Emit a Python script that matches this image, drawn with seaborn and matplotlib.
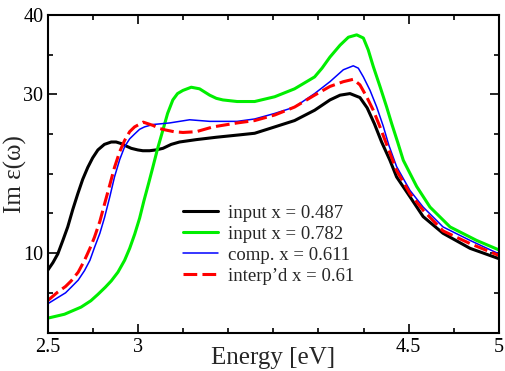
import matplotlib
matplotlib.use("Agg")
import matplotlib.pyplot as plt
import seaborn as sns
import pandas as pd

# ---- data ----
x_black = [2.50, 2.53, 2.557, 2.585, 2.612, 2.64, 2.668, 2.695, 2.723, 2.75, 2.779, 2.815,
           2.853, 2.88, 2.908, 2.935, 2.964, 3.0, 3.028, 3.065, 3.10, 3.139, 3.185, 3.231,
           3.324, 3.435, 3.564, 3.647, 3.758, 3.868, 3.979, 4.064, 4.12, 4.175, 4.23,
           4.27, 4.31, 4.35, 4.396, 4.433, 4.507, 4.58, 4.69, 4.84, 5.0]
y_black = [7.8, 8.8, 9.9, 11.6, 13.3, 15.5, 17.5, 19.3, 20.8, 22.0, 23.0, 23.7,
           24.0, 24.0, 23.8, 23.5, 23.2, 23.0, 22.9, 22.9, 23.0, 23.2, 23.7, 24.0,
           24.3, 24.6, 24.9, 25.1, 25.9, 26.7, 28.0, 29.3, 29.9, 30.1, 29.6,
           28.3, 26.3, 24.0, 21.7, 19.6, 17.1, 14.6, 12.5, 10.6, 9.3]

x_green = [2.50, 2.594, 2.686, 2.74, 2.779, 2.82, 2.853, 2.89, 2.927, 2.955, 2.983, 3.01,
           3.034, 3.06, 3.083, 3.11, 3.139, 3.165, 3.194, 3.22, 3.25, 3.296, 3.342, 3.37,
           3.398, 3.435, 3.471, 3.55, 3.647, 3.758, 3.868, 3.979, 4.02, 4.064, 4.12, 4.166,
           4.212, 4.249, 4.276, 4.304, 4.341, 4.378, 4.406, 4.44, 4.47, 4.544, 4.618, 4.729,
           4.876, 5.0]
y_green = [1.8, 2.3, 3.2, 4.0, 4.8, 5.7, 6.5, 7.6, 9.1, 10.6, 12.4, 14.4,
           16.6, 18.8, 20.8, 23.2, 25.5, 27.6, 29.3, 30.1, 30.5, 30.9, 30.7, 30.3,
           29.9, 29.5, 29.3, 29.1, 29.1, 29.7, 30.7, 32.2, 33.3, 34.7, 36.2, 37.2,
           37.5, 37.1, 35.6, 33.5, 31.0, 28.4, 26.3, 23.9, 21.7, 18.4, 15.8, 13.3,
           11.6, 10.4]

x_blue = [2.50, 2.557, 2.60, 2.631, 2.67, 2.705, 2.735, 2.76, 2.79, 2.816, 2.845, 2.871,
          2.9, 2.927, 2.955, 2.982, 3.01, 3.037, 3.083, 3.176, 3.287, 3.398, 3.55, 3.647,
          3.758, 3.868, 3.979, 4.064, 4.138, 4.193, 4.221, 4.249, 4.286, 4.323, 4.359,
          4.39, 4.433, 4.507, 4.58, 4.69, 4.84, 5.0]
y_blue = [3.6, 4.4, 5.0, 5.7, 6.6, 7.8, 9.1, 10.7, 12.5, 14.5, 17.1, 19.6,
          21.8, 23.4, 24.4, 25.0, 25.6, 25.9, 26.2, 26.4, 26.8, 26.6, 26.6, 26.9,
          27.6, 28.4, 30.1, 31.6, 33.1, 33.6, 33.3, 32.2, 30.5, 28.4, 26.0,
          23.6, 20.9, 17.9, 15.8, 13.3, 11.6, 9.9]

x_red = [2.50, 2.557, 2.60, 2.631, 2.67, 2.705, 2.735, 2.76, 2.79, 2.816, 2.845, 2.871,
         2.9, 2.927, 2.955, 2.982, 3.03, 3.083, 3.12, 3.157, 3.2, 3.25, 3.324, 3.416,
         3.55, 3.647, 3.758, 3.868, 3.979, 4.064, 4.138, 4.193, 4.23, 4.267, 4.304, 4.341,
         4.376, 4.433, 4.507, 4.58, 4.69, 4.84, 5.0]
y_red = [4.0, 5.1, 5.8, 6.5, 7.6, 9.1, 10.6, 12.0, 14.0, 16.2, 18.6, 20.8,
         22.8, 24.2, 25.3, 25.9, 26.5, 26.1, 25.7, 25.5, 25.3, 25.2, 25.3, 25.9,
         26.4, 26.7, 27.4, 28.4, 29.9, 31.0, 31.6, 31.9, 31.2, 29.7, 28.0, 25.9,
         23.8, 20.4, 17.5, 15.4, 12.8, 11.2, 9.7]

labels = ["input x = 0.487", "input x = 0.782", "comp. x = 0.611", "interp\u2019d x = 0.61"]
colors = ["#000000", "#00ee00", "#0000ff", "#ff0000"]

x_major = [2.5, 3.0, 4.5, 5.0]
x_major_labels = ["2.5", "3", "4.5", "5"]
x_minor = [2.75, 3.25, 3.5, 3.75, 4.0, 4.25, 4.75]
y_major = [0, 10, 30, 40]
y_major_labels = ["", "10", "30", "40"]
y_minor = [5, 15, 20, 25, 35]

# ---- plotting ----
sns.set_style("ticks")
plt.rcParams["font.family"] = ["Liberation Serif", "DejaVu Serif"]

fig = plt.figure(figsize=(5.05, 3.71), dpi=100)
ax = fig.add_axes([47.5 / 505, 1 - 332.5 / 371, 451.5 / 505, 317.5 / 371])

series = [(x_black, y_black), (x_green, y_green), (x_blue, y_blue), (x_red, y_red)]
widths = [2.2, 2.2, 1.1, 2.2]
for (xs, ys), lab, col, lw in zip(series, labels, colors, widths):
    df = pd.DataFrame({"E": xs, "v": ys})
    sns.lineplot(data=df, x="E", y="v", ax=ax, color=col, linewidth=lw, label=lab,
                 sort=False, estimator=None)
ax.lines[3].set_dashes((4.5, 1.7))

ax.set_xlim(2.5, 5.0)
ax.set_ylim(0, 40)
ax.set_xticks(x_major)
ax.set_xticklabels(x_major_labels)
ax.set_xticks(x_minor, minor=True)
ax.set_yticks(y_major)
ax.set_yticklabels(y_major_labels)
ax.set_yticks(y_minor, minor=True)

ax.tick_params(which="both", direction="in", top=True, right=True, width=1.2, colors="black")
ax.tick_params(which="major", length=6.7, labelsize=14.5)
ax.tick_params(axis="x", which="major", pad=4)
ax.tick_params(axis="y", which="major", pad=3)
ax.tick_params(which="minor", length=3.8)
for s in ax.spines.values():
    s.set_linewidth(1.5)
    s.set_color("black")

ax.set_xlabel("Energy [eV]", fontsize=18)
ax.set_ylabel("Im \u03b5(\u03c9)", fontsize=18)
ax.xaxis.set_label_coords(0.5, -0.047)
ax.yaxis.set_label_coords(-0.046, 0.5)

leg = ax.legend(loc="upper left", bbox_to_anchor=(0.301, 0.402), frameon=False, fontsize=13.5,
                handlelength=1.87, handletextpad=0.53, labelspacing=0.2, borderaxespad=0,
                borderpad=0)

fig.savefig("out.png", dpi=100)
